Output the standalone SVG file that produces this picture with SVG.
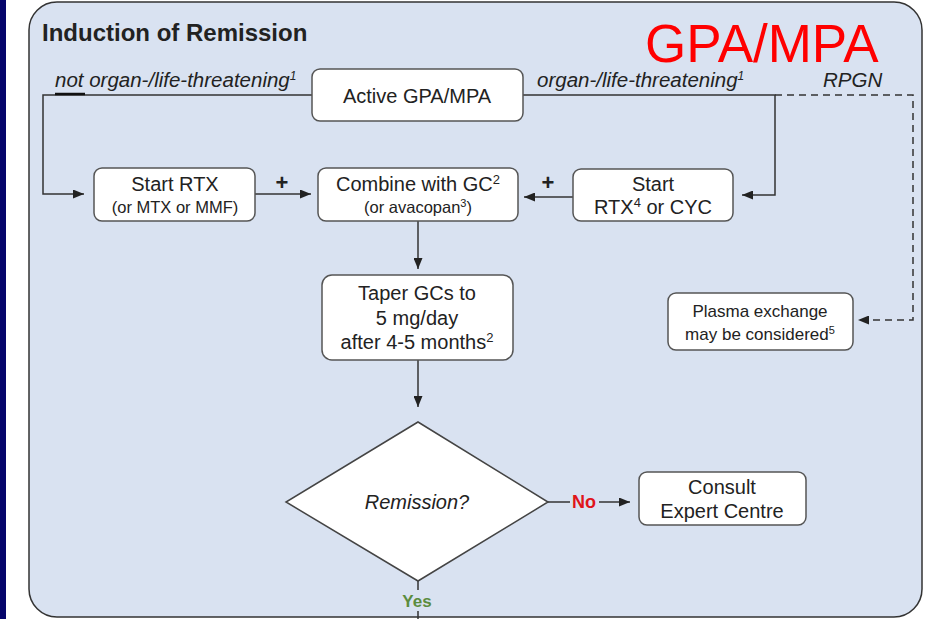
<svg xmlns="http://www.w3.org/2000/svg" width="925" height="619" viewBox="0 0 925 619">
<defs>
<style>
.box{fill:#fff;stroke:#555;stroke-width:1.5}
.t{font-family:"Liberation Sans",Arial,sans-serif;fill:#222;text-anchor:middle}
.lbl{font-family:"Liberation Sans",Arial,sans-serif;fill:#222;font-style:italic;font-size:20.5px}
.c{fill:none;stroke:#333;stroke-width:1.5}
.d{fill:none;stroke:#333;stroke-width:1.5;stroke-dasharray:7,5}
</style>
<marker id="ah" markerUnits="userSpaceOnUse" markerWidth="11" markerHeight="9" refX="11" refY="4.5" orient="auto">
<path d="M0,0 L11,4.5 L0,9 z" fill="#222"/>
</marker>
</defs>
<rect x="0" y="0" width="925" height="619" fill="#fff"/>
<rect x="0" y="0" width="6" height="619" fill="#05056b"/>
<rect x="29" y="2" width="893" height="615" rx="28" fill="#d9e2f1" stroke="#333" stroke-width="1.5"/>
<text x="42" y="41" font-family="Liberation Sans,Arial,sans-serif" font-weight="bold" font-size="24" fill="#222">Induction of Remission</text>
<text x="645" y="62" font-family="Liberation Sans,Arial,sans-serif" font-size="53" fill="#ff0000">GPA/MPA</text>

<g id="connectors">
<path class="c" d="M312,95 H43 V194 H84" marker-end="url(#ah)"/>
<path class="c" d="M523,95 H775 V195 H742" marker-end="url(#ah)"/>
<path class="d" d="M775,95 H913 V320 H858" marker-end="url(#ah)"/>
<path class="c" d="M255,194 H311" marker-end="url(#ah)"/>
<path class="c" d="M573,197 H524" marker-end="url(#ah)"/>
<path class="c" d="M418,221 V269" marker-end="url(#ah)"/>
<path class="c" d="M418,360 V407" marker-end="url(#ah)"/>
<path class="c" d="M548,502 H570"/>
<path class="c" d="M599,502 H630" marker-end="url(#ah)"/>
<path class="c" d="M418,581 V590 M418,611 V619"/>
<line x1="55" y1="94" x2="85" y2="94" stroke="#111" stroke-width="2.5"/>
<text class="lbl" x="55" y="87">not organ-/life-threatening<tspan dy="-7" font-size="12">1</tspan></text>
<text class="lbl" x="537" y="87">organ-/life-threatening<tspan dy="-7" font-size="12">1</tspan></text>
<text class="lbl" x="823" y="87">RPGN</text>
<text class="t" x="282" y="190" font-size="22" font-weight="bold">+</text>
<text class="t" x="548" y="190" font-size="22" font-weight="bold">+</text>
<text class="t" x="584" y="508" font-size="18" font-weight="bold" style="fill:#e0151b">No</text>
<text class="t" x="417" y="607" font-size="17" font-weight="bold" style="fill:#5b8c3e">Yes</text>
</g>

<g id="active">
<rect class="box" x="312" y="69" width="211" height="52" rx="8"/>
<text class="t" x="417" y="103" font-size="20">Active GPA/MPA</text>
</g>
<g id="start-rtx">
<rect class="box" x="94" y="168" width="161" height="53" rx="8"/>
<text class="t" x="175" y="191" font-size="20">Start RTX</text>
<text class="t" x="175" y="213" font-size="16.5">(or MTX or MMF)</text>
</g>
<g id="combine">
<rect class="box" x="318" y="168" width="200" height="53" rx="8"/>
<text class="t" x="418" y="191" font-size="20">Combine with GC<tspan dy="-7" font-size="13">2</tspan></text>
<text class="t" x="418" y="213" font-size="16.5">(or avacopan<tspan dy="-6" font-size="11">3</tspan><tspan dy="6">)</tspan></text>
</g>
<g id="start-cyc">
<rect class="box" x="573" y="169" width="160" height="52" rx="8"/>
<text class="t" x="653" y="191" font-size="20">Start</text>
<text class="t" x="653" y="214" font-size="20">RTX<tspan dy="-7" font-size="13">4</tspan><tspan dy="7"> or CYC</tspan></text>
</g>
<g id="taper">
<rect class="box" x="322" y="275" width="191" height="85" rx="10"/>
<text class="t" x="417" y="300" font-size="20">Taper GCs to</text>
<text class="t" x="417" y="325" font-size="20">5 mg/day</text>
<text class="t" x="417" y="349" font-size="20">after 4-5 months<tspan dy="-7" font-size="13">2</tspan></text>
</g>
<g id="plasma">
<rect class="box" x="668" y="293" width="185" height="57" rx="8"/>
<text class="t" x="760" y="317" font-size="17">Plasma exchange</text>
<text class="t" x="760" y="340" font-size="17">may be considered<tspan dy="-6" font-size="11">5</tspan></text>
</g>
<g id="remission">
<polygon points="418,422 548,502 418,581 286,502" fill="#fff" stroke="#444" stroke-width="1.5"/>
<text class="t" x="417" y="509" font-size="20" font-style="italic">Remission?</text>
</g>
<g id="consult">
<rect class="box" x="639" y="472" width="167" height="53" rx="8"/>
<text class="t" x="722" y="494" font-size="20">Consult</text>
<text class="t" x="722" y="518" font-size="20">Expert Centre</text>
</g>
</svg>
